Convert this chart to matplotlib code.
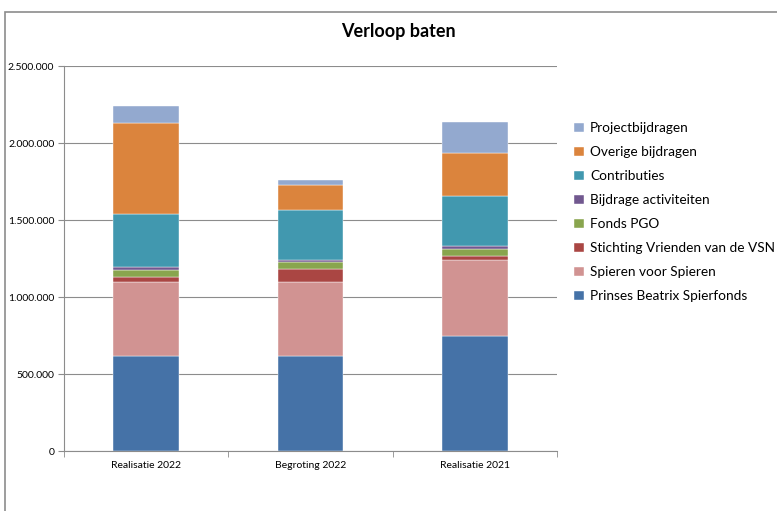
import numpy as np
import matplotlib.pyplot as plt
from matplotlib.patches import Rectangle
from matplotlib.ticker import FuncFormatter

plt.rcParams['font.family'] = ['Lato', 'DejaVu Sans']

# Data
categories = ['Realisatie 2022', 'Begroting 2022', 'Realisatie 2021']
series_names = ['Prinses Beatrix Spierfonds', 'Spieren voor Spieren',
                'Stichting Vrienden van de VSN', 'Fonds PGO',
                'Bijdrage activiteiten', 'Contributies',
                'Overige bijdragen', 'Projectbijdragen']
prinses_beatrix = [617000, 617000, 745000]
spieren_voor_spieren = [478000, 478000, 493000]
stichting_vrienden = [33000, 85000, 30000]
fonds_pgo = [49000, 47000, 44000]
bijdrage_activiteiten = [18000, 13000, 19000]
contributies = [344000, 325000, 323000]
overige_bijdragen = [591000, 162000, 279000]
projectbijdragen = [110000, 31000, 201000]

series_values = [prinses_beatrix, spieren_voor_spieren, stichting_vrienden,
                 fonds_pgo, bijdrage_activiteiten, contributies,
                 overige_bijdragen, projectbijdragen]
colors = ['#4572A7', '#D19392', '#AA4643', '#89A54E',
          '#71588F', '#4198AF', '#DB843D', '#93A9CF']

fig = plt.figure(figsize=(7.77, 5.11), dpi=100)
# outer chart border
fig.patches.append(Rectangle((5 / 777, -0.05), 1.2, 1 - 12 / 511 + 0.05,
                             transform=fig.transFigure, fill=False,
                             edgecolor='#8c8c8c', linewidth=1.2))

ax = fig.add_axes([64 / 777, 1 - 451 / 511, (557 - 64) / 777, (451 - 66) / 511])

x = np.arange(len(categories))
bottom = np.zeros(len(categories))
handles = []
for name, vals, col in zip(series_names, series_values, colors):
    b = ax.bar(x, vals, width=0.4, bottom=bottom, color=col, label=name,
               edgecolor='white', linewidth=0.3)
    handles.append(b)
    bottom += np.array(vals)

ax.set_xlim(-0.5, 2.5)
ax.set_ylim(0, 2500000)
ax.set_yticks(np.arange(0, 2500001, 500000))
ax.yaxis.set_major_formatter(FuncFormatter(lambda v, p: f'{int(v):,}'.replace(',', '.')))
ax.set_xticks(x)
ax.set_xticklabels(categories, fontsize=7.5)
ax.set_xticks([-0.5, 0.5, 1.5, 2.5], minor=True)
ax.tick_params(axis='x', which='major', length=0, pad=7)
ax.tick_params(axis='x', which='minor', length=4, color='#8c8c8c')
ax.tick_params(axis='y', labelsize=7.5, length=4, color='#8c8c8c', pad=3)

ax.yaxis.grid(True, color='#8c8c8c', linewidth=0.8)
ax.set_axisbelow(True)
for s in ['top', 'right']:
    ax.spines[s].set_visible(False)
for s in ['left', 'bottom']:
    ax.spines[s].set_color('#8c8c8c')

fig.text(398 / 777, 1 - 32 / 511, 'Verloop baten', ha='center', va='center',
         fontsize=13, fontweight='bold')

leg = fig.legend(handles[::-1], series_names[::-1], loc='upper left',
                 bbox_to_anchor=(562 / 777, 1 - 110 / 511), frameon=False,
                 fontsize=9.8, handlelength=0.7, handleheight=0.7,
                 handletextpad=0.45, labelspacing=0.88)

fig.savefig('out.png', dpi=100)
